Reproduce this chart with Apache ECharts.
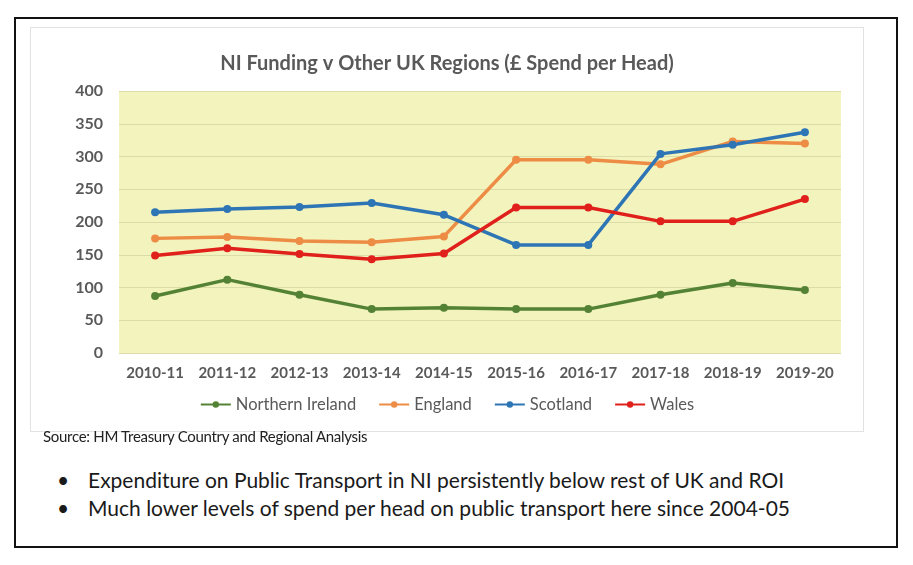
<!DOCTYPE html>
<html>
<head>
<meta charset="utf-8">
<script src="https://cdn.jsdelivr.net/npm/echarts@6/dist/echarts.min.js"></script>
<style>
  body { margin: 0; background: #fff; font-family: Lato, "Noto Sans", sans-serif; }
  #frame { position: absolute; left: 14px; top: 17px; width: 880px; height: 527px; border: 2px solid #111; }
  #chart { position: absolute; left: 30px; top: 27px; width: 832px; height: 403px; border: 1px solid #e2e2e2; }
  #source { position: absolute; left: 43px; top: 427px; font-size: 15px; color: #222; letter-spacing: -0.3px; }
  .bullet { position: absolute; left: 57px; font-size: 21px; color: #1a1a1a; }
  .bullet span { position: absolute; left: 31px; white-space: nowrap; }
</style>
</head>
<body>
<div id="frame"></div>
<div id="chart"></div>
<div id="source">Source: HM Treasury Country and Regional Analysis</div>
<div class="bullet" style="top:467px">&bull;<span>Expenditure on Public Transport in NI persistently below rest of UK and ROI</span></div>
<div class="bullet" style="top:495px">&bull;<span>Much lower levels of spend per head on public transport here since 2004-05</span></div>
<script>
var years = ["2010-11", "2011-12", "2012-13", "2013-14", "2014-15", "2015-16", "2016-17", "2017-18", "2018-19", "2019-20"];
var northernIreland = [87, 112, 89, 67, 69, 67, 67, 89, 107, 96];
var england = [175, 177, 171, 169, 178, 295, 295, 288, 323, 320];
var scotland = [215, 220, 223, 229, 211, 165, 165, 304, 318, 337];
var wales = [149, 160, 151, 143, 152, 222, 222, 201, 201, 235];

var grey = "#595959";

function lineSeries(name, data, color) {
    return {
        name: name,
        type: "line",
        data: data,
        color: color,
        symbol: "circle",
        symbolSize: 8,
        lineStyle: { width: 3.5, color: color },
        itemStyle: { color: color }
    };
}

var chart = echarts.init(document.getElementById("chart"));
chart.setOption({
    animation: false,
    title: {
        text: "NI Funding v Other UK Regions (£ Spend per Head)",
        left: "center",
        top: 21,
        textStyle: { fontFamily: "Lato", fontSize: 20, fontWeight: "bold", color: grey }
    },
    legend: {
        bottom: 13,
        itemWidth: 30,
        itemHeight: 8,
        itemGap: 22,
        textStyle: { fontFamily: "Lato", fontSize: 16.5, color: grey },
        data: ["Northern Ireland", "England", "Scotland", "Wales"]
    },
    grid: {
        left: 88, right: 22, top: 63, bottom: 78,
        show: true, backgroundColor: "#f3f3bd", borderWidth: 0
    },
    xAxis: {
        type: "category",
        data: years,
        axisLine: { show: false },
        axisTick: { show: false },
        axisLabel: { interval: 0, hideOverlap: false, fontFamily: "Lato", fontSize: 15, fontWeight: "bold", color: grey, margin: 13 }
    },
    yAxis: {
        type: "value",
        min: 0, max: 400, interval: 50,
        axisLine: { show: false },
        axisTick: { show: false },
        splitLine: { lineStyle: { color: "#dcdca8", width: 1 } },
        axisLabel: { fontFamily: "Lato", fontSize: 16, fontWeight: "bold", color: grey, margin: 16 }
    },
    series: [
        lineSeries("Northern Ireland", northernIreland, "#548235"),
        lineSeries("England", england, "#ed8c45"),
        lineSeries("Scotland", scotland, "#2e75b6"),
        lineSeries("Wales", wales, "#e0201b")
    ]
});
</script>
</body>
</html>
